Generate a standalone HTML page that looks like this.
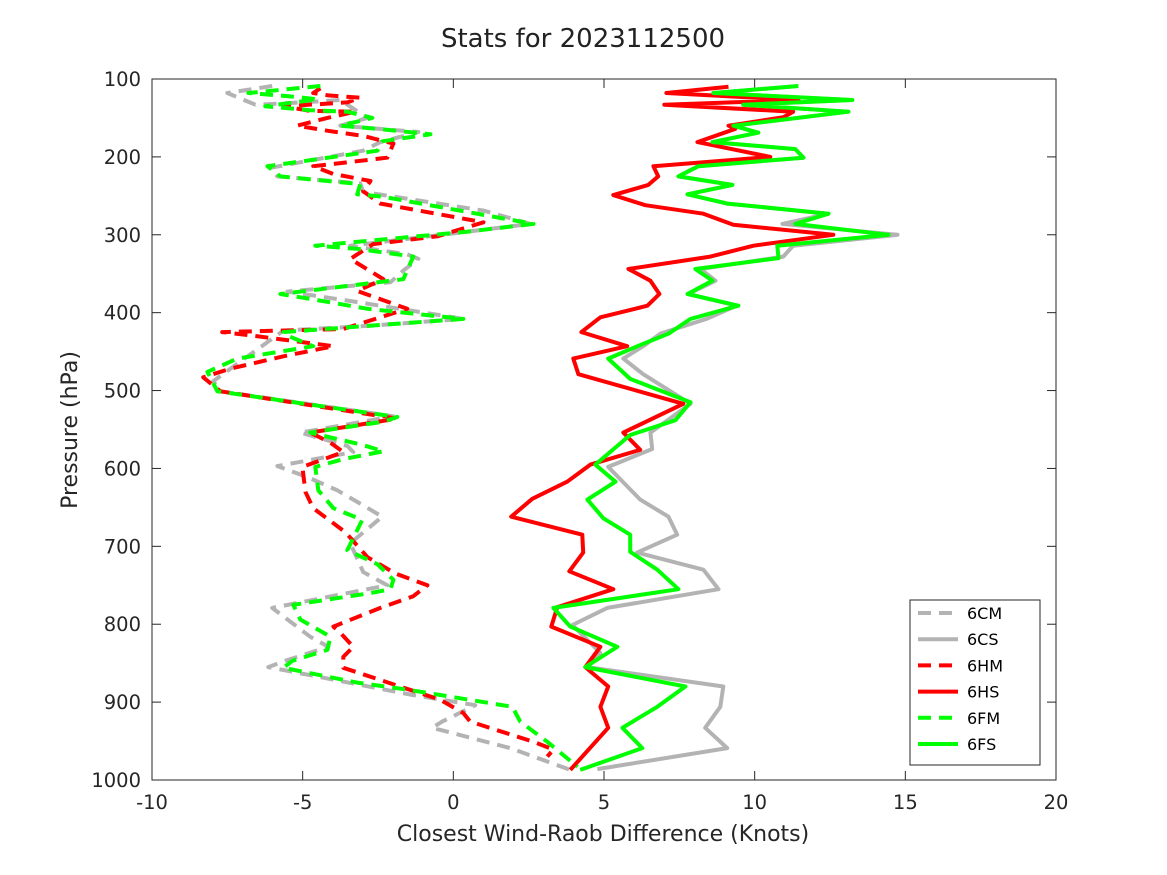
<!DOCTYPE html>
<html><head><meta charset="utf-8"><style>
body{margin:0;background:#fff;}
svg{display:block;font-family:"DejaVu Sans","Liberation Sans",sans-serif;}
</style></head><body>
<svg id="chart" width="1167" height="875" xmlns="http://www.w3.org/2000/svg">
<rect width="1167" height="875" fill="#fff"/>
<text x="583" y="47" text-anchor="middle" font-size="26" fill="#222">Stats for 2023112500</text>
<rect x="152" y="79" width="904" height="701" fill="#fff" stroke="#262626" stroke-width="1"/>
<g id="ticks"></g>
<g id="series"></g>
<text x="603" y="841" text-anchor="middle" font-size="22" fill="#262626">Closest Wind-Raob Difference (Knots)</text>
<text transform="translate(77,430) rotate(-90)" text-anchor="middle" font-size="22" fill="#262626">Pressure (hPa)</text>
<g id="legend"></g>
</svg>
<script>
const xTicks=[-10,-5,0,5,10,15,20];
const yTicks=[100,200,300,400,500,600,700,800,900,1000];
const seriesNames=["6CM","6CS","6HM","6HS","6FM","6FS"];
const seriesColors=["#b3b3b3","#b3b3b3","#ff0000","#ff0000","#00ff00","#00ff00"];
const seriesDashed=[true,false,true,false,true,false];

const p6CM=[109,118,133,130,127,150,160,168,181,192,214,225,234,245,269,286,296,314,325,331,346,361,373,385,408,417,423,488,501,533,554,571,579,597,611,628,649,662,696,733,750,779,816,829,846,855,891,904,925,933,959,987];
const x6CM=[-6.01,-7.5,-6.57,-4.98,-3.75,-2.85,-3.75,-1.16,-2.42,-2.99,-6.07,-5.84,-3.09,-2.99,1.0,2.56,0.46,-3.42,-1.53,-1.16,-1.66,-2.09,-5.51,-3.42,0.33,-2.85,-5.64,-7.97,-7.73,-1.99,-5.08,-3.52,-3.32,-5.84,-4.85,-3.85,-2.92,-2.36,-3.42,-2.99,-2.19,-6.01,-4.75,-4.15,-5.51,-6.14,-1.33,0.73,-0.37,-0.7,1.89,3.88];

const p6CS=[109,118,127,133,142,160,169,181,190,201,212,225,236,248,260,273,286,300,314,328,344,359,376,391,408,427,443,459,479,517,554,575,598,640,662,685,708,730,755,779,801,837,855,880,906,933,959,986];
const x6CS=[11.45,8.63,13.24,9.62,13.11,9.29,10.12,8.6,11.35,11.62,8.13,7.47,9.26,7.77,9.09,12.45,10.92,14.74,11.28,10.95,8.2,8.7,7.8,9.4,8.4,6.87,6.3,5.64,6.3,7.87,6.54,6.6,5.14,6.2,7.14,7.43,6.1,8.3,8.8,5.11,3.95,4.88,4.45,8.96,8.86,8.36,9.09,4.78];

const p6HM=[112,118,121,124,130,135,141,142,150,160,167,173,183,201,212,222,231,244,260,284,302,312,331,357,372,395,421,425,430,443,456,472,483,501,536,554,567,579,598,630,651,682,714,735,750,764,779,803,811,829,842,856,897,914,925,951,961,970];
const x6HM=[-4.41,-4.65,-4.15,-3.09,-3.52,-5.64,-4.75,-3.25,-4.18,-5.18,-4.08,-2.99,-1.99,-2.19,-4.65,-3.98,-2.75,-2.99,-2.42,1.0,-0.53,-2.66,-3.42,-2.32,-3.19,-1.53,-3.65,-7.67,-6.57,-3.98,-5.64,-7.4,-8.3,-7.73,-1.86,-4.75,-4.08,-3.65,-5.01,-4.91,-4.65,-3.58,-2.85,-1.92,-0.86,-1.33,-2.42,-3.98,-3.75,-3.32,-3.65,-3.65,-0.43,0.33,0.56,2.66,3.32,3.12];

const p6HS=[110,118,127,133,142,149,160,164,181,200,212,225,236,249,262,273,287,300,314,328,344,359,376,391,406,425,443,459,479,517,554,576,595,617,639,662,685,708,732,755,778,803,829,855,880,906,933,987];
const x6HS=[9.13,7.07,11.45,7.0,11.28,10.95,9.13,9.36,8.1,10.52,6.64,6.8,6.47,5.31,6.37,8.3,9.29,12.61,9.96,8.53,5.81,6.54,6.84,6.44,4.88,4.25,5.77,3.98,4.15,7.63,5.64,6.2,4.55,3.78,2.62,1.92,4.28,4.31,3.85,5.31,3.45,3.25,4.88,4.38,5.14,4.88,5.14,3.88];

const p6FM=[109,118,122,126,135,140,142,150,160,164,171,177,180,192,212,225,235,248,251,286,296,314,318,328,357,376,383,395,408,417,425,431,443,459,476,501,534,540,554,570,578,588,598,628,651,666,705,723,743,755,760,775,794,816,833,847,856,875,884,902,906,925,951,983];
const x6FM=[-4.41,-6.8,-5.51,-4.51,-6.24,-4.75,-3.52,-2.69,-3.75,-2.52,-0.76,-1.86,-2.36,-2.52,-6.17,-5.74,-3.09,-3.19,-2.36,2.66,0.46,-4.58,-3.19,-1.33,-1.66,-5.74,-4.65,-2.85,0.33,-2.85,-5.64,-5.41,-4.65,-7.17,-8.16,-7.83,-1.86,-2.32,-4.75,-2.99,-2.32,-3.65,-4.58,-4.48,-3.98,-3.02,-3.52,-2.52,-1.99,-2.09,-2.75,-5.31,-5.08,-4.08,-4.18,-5.34,-5.64,-3.19,-1.53,1.33,1.96,2.22,3.12,4.12];

const p6FS=[109,118,127,133,142,160,169,181,190,201,212,225,236,248,260,273,286,300,314,330,344,359,376,391,408,427,443,459,485,515,538,557,595,617,640,664,685,707,730,755,779,803,829,855,880,906,933,959,987];
const x6FS=[11.45,8.63,13.24,9.62,13.11,9.29,10.12,8.6,11.35,11.62,8.13,7.47,9.26,7.77,9.09,12.45,11.35,14.44,10.75,10.79,8.03,8.6,7.77,9.46,7.87,7.14,6.11,5.14,5.87,7.87,7.37,5.87,4.71,5.38,4.45,4.98,5.87,5.87,6.77,7.47,3.32,3.88,5.44,4.38,7.7,6.77,5.61,6.27,4.21];

const seriesP=[p6CM,p6CS,p6HM,p6HS,p6FM,p6FS];
const seriesX=[x6CM,x6CS,x6HM,x6HS,x6FM,x6FS];

const L=152,R=1056,T=79,B=780;
const xMin=-10,xMax=20,pMin=100,pMax=1000;
function sx(v){return L+(v-xMin)/(xMax-xMin)*(R-L);}
function sy(p){return T+(p-pMin)/(pMax-pMin)*(B-T);}
const NS="http://www.w3.org/2000/svg";
function mk(tag,attrs,parent){const e=document.createElementNS(NS,tag);for(const k in attrs)e.setAttribute(k,attrs[k]);parent.appendChild(e);return e;}

const tg=document.getElementById('ticks');
xTicks.forEach(v=>{
  const x=sx(v);
  const t1=mk('line',{x1:x,x2:x,y1:B,y2:B-9,stroke:'#262626','stroke-width':1},tg);
  
  
  const t2=mk('line',{x1:x,x2:x,y1:T,y2:T+9,stroke:'#262626','stroke-width':1},tg);
  
  
  const lb=mk('text',{x:x,y:B+29,'text-anchor':'middle','font-size':19.5,fill:'#262626'},tg);
  lb.textContent=v;
  
  
});
yTicks.forEach(v=>{
  const y=sy(v);
  const t1=mk('line',{x1:L,x2:L+9,y1:y,y2:y,stroke:'#262626','stroke-width':1},tg);
  
  
  const t2=mk('line',{x1:R,x2:R-9,y1:y,y2:y,stroke:'#262626','stroke-width':1},tg);
  
  
  const lb=mk('text',{x:L-11,y:y+7,'text-anchor':'end','font-size':19.5,fill:'#262626'},tg);
  lb.textContent=v;
  
  
});

const sg=document.getElementById('series');
seriesNames.forEach((n,i)=>{
  const pts=seriesP[i].map((p,j)=>sx(seriesX[i][j]).toFixed(1)+','+sy(p).toFixed(1)).join(' ');
  const pl=mk('polyline',{points:pts,fill:'none',stroke:seriesColors[i],'stroke-width':4,'stroke-linejoin':'round'},sg);
  if(seriesDashed[i])pl.setAttribute('stroke-dasharray','13 8');
  
  
});

const lg=document.getElementById('legend');
const box=mk('rect',{x:910,y:600,width:130,height:165,fill:'#fff',stroke:'#262626','stroke-width':1},lg);


seriesNames.forEach((n,i)=>{
  const y=613+i*26.2;
  const ln=mk('line',{x1:918,x2:958,y1:y,y2:y,stroke:seriesColors[i],'stroke-width':4},lg);
  if(seriesDashed[i])ln.setAttribute('stroke-dasharray','13 8');
  
  
  const t=mk('text',{x:967,y:y+6,'font-size':16,fill:'#000'},lg);
  t.textContent=n;
  
  
});
</script>
</body></html>
